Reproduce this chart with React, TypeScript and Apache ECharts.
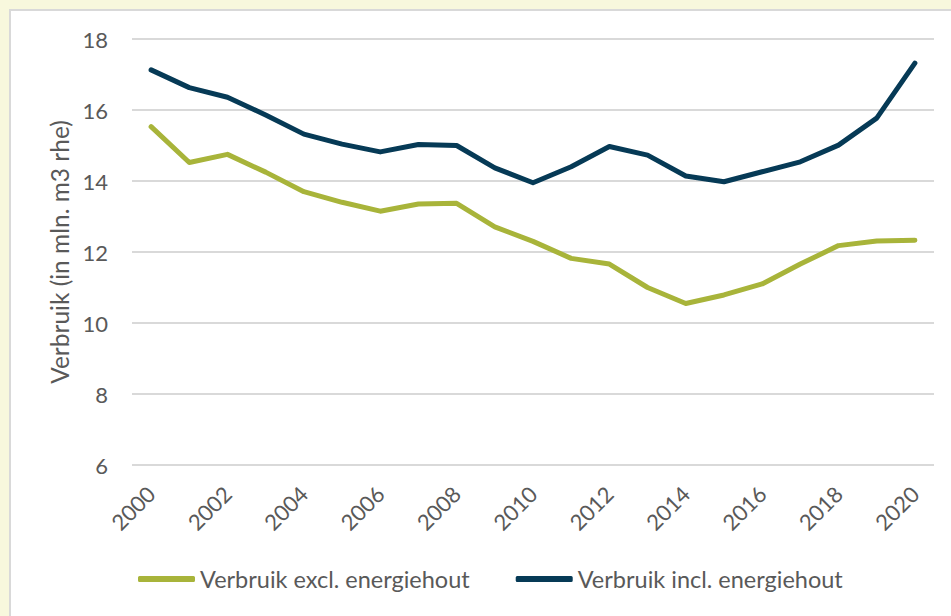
import React, { useEffect, useRef } from "react";
import * as echarts from "echarts";

const years = ["2000","2001","2002","2003","2004","2005","2006","2007","2008","2009","2010","2011","2012","2013","2014","2015","2016","2017","2018","2019","2020"];
const exclValues = [15.53,14.52,14.75,14.25,13.70,13.40,13.15,13.35,13.37,12.71,12.30,11.82,11.66,11.00,10.55,10.79,11.10,11.66,12.18,12.31,12.33];
const inclValues = [17.13,16.63,16.36,15.86,15.32,15.04,14.82,15.03,15.00,14.37,13.95,14.40,14.97,14.73,14.14,13.98,14.26,14.54,15.01,15.77,17.32];
const seriesNames = ["Verbruik excl. energiehout", "Verbruik incl. energiehout"];
const yAxisName = "Verbruik (in mln. m3 rhe)";

export default function App() {
  const ref = useRef<HTMLDivElement>(null);
  useEffect(() => {
    if (!ref.current) return;
    const chart = echarts.init(ref.current, null, { renderer: "svg" });
    const font = "Lato, 'Open Sans', sans-serif";
    chart.setOption({
      animation: false,
      backgroundColor: "#f8f8dd",
      textStyle: { fontFamily: font },
      graphic: [
        {
          type: "rect",
          shape: { x: 10, y: 10, width: 960, height: 620 },
          style: { fill: "#ffffff", stroke: "#d9d9d9", lineWidth: 2 },
          z: -10,
        },
      ],
      grid: { left: 132, right: 17, top: 39, bottom: 151, containLabel: false },
      legend: {
        bottom: 20,
        left: 133,
        itemWidth: 57,
        itemHeight: 6,
        itemGap: 46,
        icon: "roundRect",
        textStyle: { fontSize: 23.5, color: "#595959", fontFamily: font },
        data: seriesNames,
      },
      xAxis: {
        type: "category",
        data: years,
        boundaryGap: true,
        axisLine: { show: false },
        axisTick: { show: false },
        axisLabel: {
          interval: 1,
          rotate: 45,
          margin: 25,
          fontSize: 22,
          color: "#595959",
          fontFamily: font,
        },
      },
      yAxis: {
        type: "value",
        min: 6,
        max: 18,
        interval: 2,
        name: yAxisName,
        nameLocation: "middle",
        nameGap: 60,
        nameTextStyle: { fontSize: 24.5, color: "#595959", fontFamily: font },
        axisLine: { show: false },
        axisTick: { show: false },
        axisLabel: { margin: 24, fontSize: 22, color: "#595959", fontFamily: font },
        splitLine: { lineStyle: { color: "#d9d9d9", width: 2 } },
      },
      series: [
        {
          name: seriesNames[0],
          type: "line",
          data: exclValues,
          showSymbol: false,
          symbol: "none",
          color: "#a8b43a",
          lineStyle: { width: 5, color: "#a8b43a", cap: "round", join: "round" },
        },
        {
          name: seriesNames[1],
          type: "line",
          data: inclValues,
          showSymbol: false,
          symbol: "none",
          color: "#063a56",
          lineStyle: { width: 5, color: "#063a56", cap: "round", join: "round" },
        },
      ],
    });
    return () => chart.dispose();
  }, []);
  return (
    <div
      ref={ref}
      style={{ position: "fixed", left: 0, top: 0, width: 951, height: 616 }}
    />
  );
}
